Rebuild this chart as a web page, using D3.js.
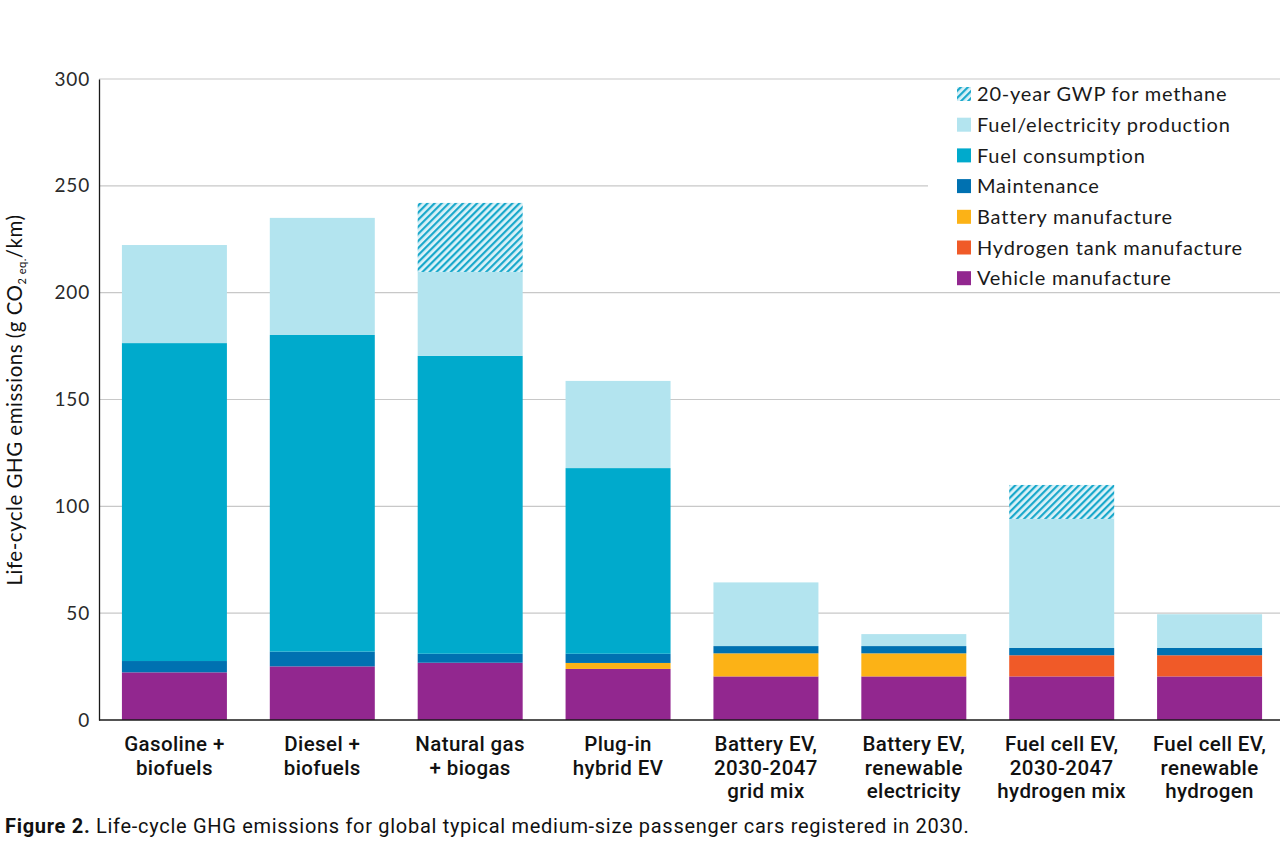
<!DOCTYPE html>
<html>
<head>
<meta charset="utf-8">
<script src="https://cdn.jsdelivr.net/npm/d3@7"></script>
<style>
    body { margin: 0; background: #fff; }
    svg { display: block; }
    .tick text { font-family: Lato, "Open Sans", sans-serif; }
</style>
</head>
<body>
<div id="chart"></div>
<script>

// categorias (lineas de cada etiqueta)
var categorias = [
    ["Gasoline +", "biofuels"],
    ["Diesel +", "biofuels"],
    ["Natural gas", "+ biogas"],
    ["Plug-in", "hybrid EV"],
    ["Battery EV,", "2030-2047", "grid mix"],
    ["Battery EV,", "renewable", "electricity"],
    ["Fuel cell EV,", "2030-2047", "hydrogen mix"],
    ["Fuel cell EV,", "renewable", "hydrogen"]
];

// valores por serie (g CO2 eq./km)
var vehicleMfg      = [22.3, 25.1, 26.8, 23.9, 20.4, 20.4, 20.4, 20.4];
var hydrogenTank    = [0, 0, 0, 0, 0, 0, 9.9, 9.9];
var batteryMfg      = [0, 0, 0, 2.8, 10.8, 10.8, 0, 0];
var maintenance     = [5.3, 6.9, 4.2, 4.3, 3.4, 3.4, 3.4, 3.4];
var fuelConsumption = [148.8, 148.2, 139.4, 86.9, 0, 0, 0, 0];
var fuelProduction  = [45.9, 54.8, 39.3, 40.8, 29.8, 5.6, 60.4, 15.8];
var methaneGwp20    = [0, 0, 32.3, 0, 0, 0, 15.9, 0];

var yTicks = [0, 50, 100, 150, 200, 250, 300];

var series = [
    { key: "vehicle",  nombre: "Vehicle manufacture",          valores: vehicleMfg,      color: "#92278f" },
    { key: "hydrogen", nombre: "Hydrogen tank manufacture",    valores: hydrogenTank,    color: "#f05a28" },
    { key: "battery",  nombre: "Battery manufacture",          valores: batteryMfg,      color: "#fcb216" },
    { key: "maint",    nombre: "Maintenance",                  valores: maintenance,     color: "#0071b1" },
    { key: "fuelcons", nombre: "Fuel consumption",             valores: fuelConsumption, color: "#00aacc" },
    { key: "fuelprod", nombre: "Fuel/electricity production",  valores: fuelProduction,  color: "#b3e4ef" },
    { key: "methane",  nombre: "20-year GWP for methane",      valores: methaneGwp20,    color: "url(#hatch)" }
];

var W = 1280, H = 853;
var margen = { left: 99, top: 79, bottom: 720 };
var fuenteAngosta = "Roboto, 'Liberation Sans Narrow', sans-serif";
var fuenteAncha = "Lato, 'Open Sans', sans-serif";

var svg = d3.select("#chart").append("svg")
    .attr("width", W)
    .attr("height", H);

// patron rayado
var defs = svg.append("defs");
var pat = defs.append("pattern")
    .attr("id", "hatch")
    .attr("patternUnits", "userSpaceOnUse")
    .attr("width", 5)
    .attr("height", 5)
    .attr("patternTransform", "rotate(45)");
pat.append("rect").attr("width", 5).attr("height", 5).attr("fill", "#dcf2f8");
pat.append("rect").attr("width", 2.2).attr("height", 5).attr("fill", "#19a8cb");

var tabla = categorias.map(function (c, i) {
    var fila = { idx: i };
    series.forEach(function (s) { fila[s.key] = s.valores[i]; });
    return fila;
});

var x = d3.scaleBand()
    .domain(d3.range(categorias.length))
    .range([margen.left, 1285])
    .paddingInner(0.29)
    .paddingOuter(0.155);

var y = d3.scaleLinear()
    .domain([0, 300])
    .range([margen.bottom, margen.top]);

// grid
svg.append("g")
    .selectAll("line")
    .data(yTicks.filter(function (d) { return d > 0; }))
    .enter().append("line")
    .attr("x1", margen.left)
    .attr("x2", W)
    .attr("y1", function (d) { return y(d); })
    .attr("y2", function (d) { return y(d); })
    .attr("stroke", "#c8c8c8")
    .attr("stroke-width", 1.2);

// barras apiladas
var stack = d3.stack().keys(series.map(function (s) { return s.key; }));
var capas = stack(tabla);

svg.append("g")
    .selectAll("g")
    .data(capas)
    .enter().append("g")
    .attr("fill", function (d, i) { return series[i].color; })
    .selectAll("rect")
    .data(function (d) { return d; })
    .enter().append("rect")
    .filter(function (d) { return d[1] - d[0] > 0; })
    .attr("x", function (d, i) { return x(d.data.idx); })
    .attr("width", x.bandwidth())
    .attr("y", function (d) { return y(d[1]); })
    .attr("height", function (d) { return y(d[0]) - y(d[1]); });

// leyenda
var leg = svg.append("g");
leg.append("rect")
    .attr("x", 928).attr("y", 82)
    .attr("width", 352).attr("height", 208)
    .attr("fill", "#fff");

var legItems = series.slice().reverse();
legItems.forEach(function (s, i) {
    var cy = 94 + i * 30.7;
    leg.append("rect")
        .attr("x", 957).attr("y", cy - 7)
        .attr("width", 14).attr("height", 14)
        .attr("fill", s.color);
    leg.append("text")
        .attr("x", 977).attr("y", cy)
        .attr("dy", "0.36em")
        .attr("font-family", fuenteAncha)
        .attr("font-size", 20)
        .attr("letter-spacing", 0.8)
        .attr("fill", "#1a1a1a")
        .text(s.nombre);
});

// eje y
var ejeY = svg.append("g")
    .attr("transform", "translate(" + margen.left + ",0)")
    .call(d3.axisLeft(y).tickValues(yTicks).tickSize(0).tickPadding(9));
ejeY.select(".domain").attr("stroke", "#1a1a1a").attr("stroke-width", 1.3);
ejeY.selectAll(".tick text")
    .attr("font-size", 19)
    .attr("letter-spacing", 0.8)
    .attr("fill", "#2a2a2a");

// eje x
svg.append("line")
    .attr("x1", margen.left).attr("x2", W)
    .attr("y1", margen.bottom).attr("y2", margen.bottom)
    .attr("stroke", "#1a1a1a").attr("stroke-width", 1.6);

var etiquetas = svg.append("g")
    .selectAll("text")
    .data(categorias)
    .enter().append("text")
    .attr("x", function (d, i) { return x(i) + x.bandwidth() / 2; })
    .attr("y", 751)
    .attr("text-anchor", "middle")
    .attr("font-family", fuenteAngosta)
    .attr("font-weight", 500)
    .attr("font-size", 20.5)
    .attr("letter-spacing", 0.4)
    .attr("fill", "#111");
etiquetas.each(function (d) {
    var t = d3.select(this);
    d.forEach(function (linea, j) {
        t.append("tspan")
            .attr("x", t.attr("x"))
            .attr("dy", j == 0 ? 0 : 23.5)
            .text(linea);
    });
});

// titulo eje y
var tituloY = svg.append("text")
    .attr("transform", "translate(22,400) rotate(-90)")
    .attr("text-anchor", "middle")
    .attr("font-family", fuenteAncha)
    .attr("font-size", 20.5)
    .attr("letter-spacing", 0.5)
    .attr("fill", "#111");
tituloY.append("tspan").text("Life-cycle GHG emissions (g CO");
tituloY.append("tspan").attr("font-size", 11).attr("dy", 4).text("2");
tituloY.append("tspan").attr("font-size", 11).text(" eq.");
tituloY.append("tspan").attr("dy", -4).text("/km)");

// pie de figura
var pie = svg.append("text")
    .attr("x", 5).attr("y", 833)
    .attr("font-family", fuenteAngosta)
    .attr("font-size", 20)
    .attr("letter-spacing", 0.7)
    .attr("fill", "#111");
pie.append("tspan").attr("font-weight", "bold").text("Figure 2.");
pie.append("tspan").text(" Life-cycle GHG emissions for global typical medium-size passenger cars registered in 2030.");

</script>
</body>
</html>
